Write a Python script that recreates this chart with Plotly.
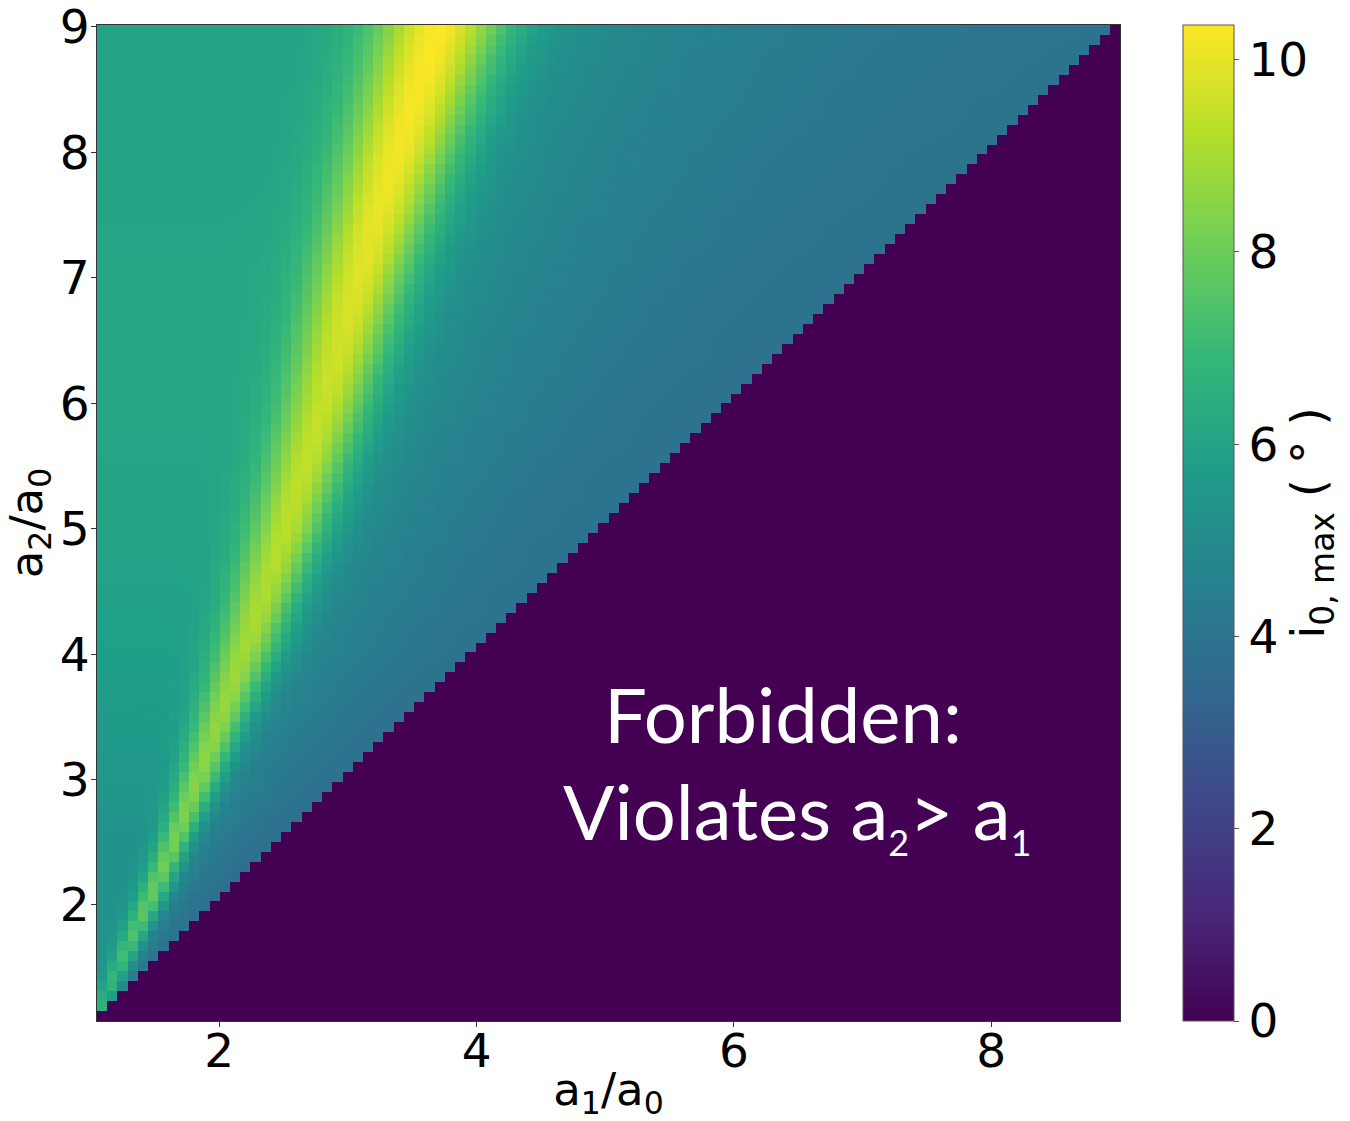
import numpy as np
import plotly.graph_objects as go

# ---- values (per-row profile anchors) ----
a2_knots    = [1.2, 2.0, 2.5, 3.0, 4.0, 5.0, 6.0, 7.0, 8.0, 9.0]
ridge_a1    = [1.09, 1.45, 1.65, 1.84, 2.2, 2.53, 2.83, 3.1, 3.4, 3.72]
ridge_peak  = [6.6, 7.8, 8.2, 8.5, 8.9, 9.3, 9.5, 9.9, 10.2, 10.35]
ridge_width = [0.05, 0.08, 0.09, 0.12, 0.18, 0.22, 0.255, 0.29, 0.33, 0.37]
left_level  = [5.3, 5.3, 5.3, 5.5, 5.8, 6.0, 6.1, 6.1, 6.0, 6.0]
far_level   = [3.3, 3.4, 3.5, 3.6, 3.7, 3.7, 3.7, 3.75, 3.8, 3.85]
decay_len   = [0.15, 0.3, 0.45, 0.55, 0.8, 1.0, 1.25, 1.45, 1.7, 1.9]

n_cells = 100
x_lo, x_hi = 1.05, 9.0
y_lo, y_hi = 1.075, 9.015
colorbar_ticks = [0, 2, 4, 6, 8, 10]
z_max = 10.36

# ---- build the grid ----
dx = (x_hi - x_lo) / n_cells
dy = (y_hi - y_lo) / n_cells
a1 = x_lo + dx * (np.arange(n_cells) + 0.5)
a2 = y_lo + dy * (np.arange(n_cells) + 0.5)

Z = np.zeros((n_cells, n_cells))
for j, y in enumerate(a2):
    c = np.interp(y, a2_knots, ridge_a1)
    pk = np.interp(y, a2_knots, ridge_peak)
    sw = np.interp(y, a2_knots, ridge_width)
    L = np.interp(y, a2_knots, left_level)
    R = np.interp(y, a2_knots, far_level)
    tau = np.interp(y, a2_knots, decay_len)
    for i, x in enumerate(a1):
        if i >= j:
            Z[j, i] = 0.0
            continue
        if x <= c:
            bg = L
        else:
            bg = R + (L - R) * np.exp(-(x - c) / tau)
        Z[j, i] = bg + (pk - L) * np.exp(-((x - c) ** 2) / (2 * sw ** 2))

fig = go.Figure()
fig.add_trace(go.Heatmap(
    x=a1, y=a2, z=Z,
    colorscale="Viridis", zmin=0, zmax=z_max,
    colorbar=dict(
        x=1.0616, xanchor="left", xref="paper", xpad=0, ypad=0,
        y=0.5, yanchor="middle", len=1.0, lenmode="fraction",
        thickness=51, outlinewidth=1, outlinecolor="#555",
        tickvals=colorbar_ticks, ticks="outside", ticklen=5,
        tickcolor="#555",
        tickfont=dict(family="DejaVu Sans", size=47, color="black"),
        title=dict(text="i<sub>0, max</sub> ( ° )", side="right",
                   font=dict(family="DejaVu Sans", size=47, color="black")),
    ),
))

fig.add_annotation(x=6.38, y=3.53, xref="x", yref="y", text="Forbidden:",
                   showarrow=False,
                   font=dict(family="Lato", size=76, color="white"))
fig.add_annotation(x=6.49, y=2.72, xref="x", yref="y",
                   text=("Violates a<sub><span style='font-size:36px'>2</span></sub>"
                         "> a<sub><span style='font-size:36px'>1</span></sub>"),
                   showarrow=False,
                   font=dict(family="Lato", size=76, color="white"))

axis_common = dict(
    showgrid=False, zeroline=False, ticks="outside", ticklen=5,
    tickcolor="#333", showline=True, linecolor="#333", linewidth=1,
    mirror=True, automargin=False, ticklabeloverflow="allow",
    tickfont=dict(family="DejaVu Sans", size=47, color="black"),
)
fig.update_xaxes(range=[x_lo, x_hi], tickvals=[2, 4, 6, 8],
                 ticklabelstandoff=-16,
                 title=dict(text="a<sub>1</sub>/a<sub>0</sub>",
                            font=dict(family="DejaVu Sans", size=45, color="black"),
                            standoff=8),
                 **axis_common)
fig.update_yaxes(range=[y_lo, y_hi], tickvals=[2, 3, 4, 5, 6, 7, 8, 9],
                 ticklabelstandoff=-8,
                 title=dict(text="a<sub>2</sub>/a<sub>0</sub>",
                            font=dict(family="DejaVu Sans", size=45, color="black"),
                            standoff=10),
                 **axis_common)

fig.update_layout(
    width=1350, height=1121,
    margin=dict(l=97, r=230, t=25, b=100, pad=0, autoexpand=False),
    paper_bgcolor="white", plot_bgcolor="white",
)

fig.write_html("out.html")
